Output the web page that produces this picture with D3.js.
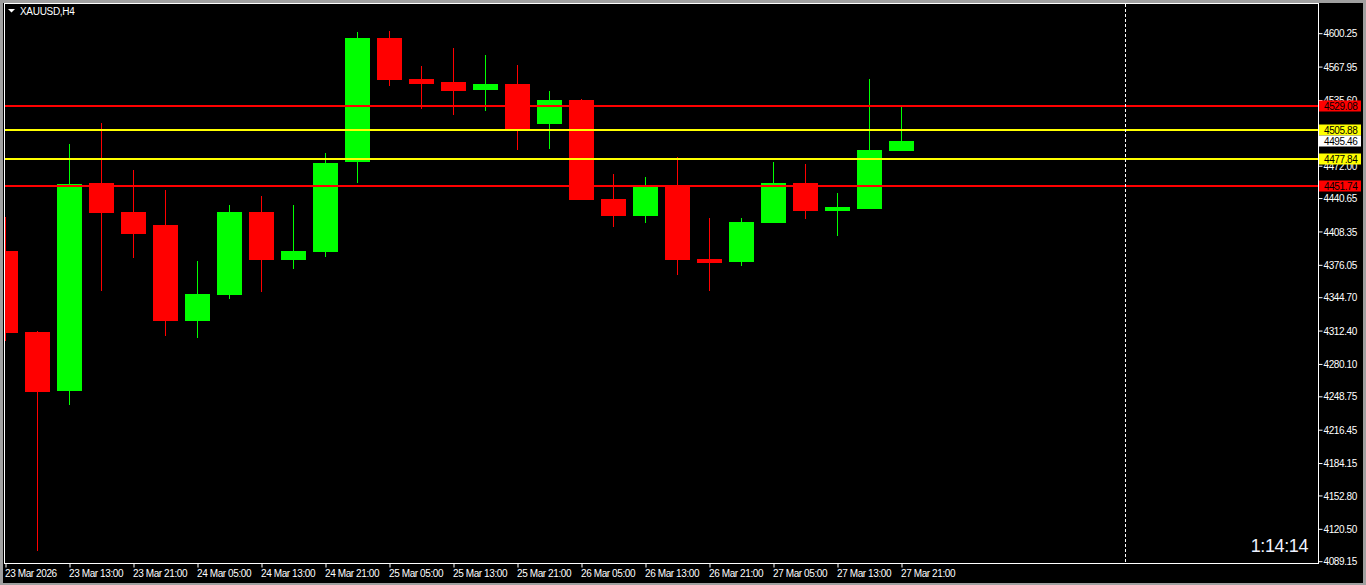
<!DOCTYPE html>
<html><head><meta charset="utf-8">
<script src="https://cdn.jsdelivr.net/npm/d3@7"></script>
<style>
html,body{margin:0;padding:0;background:#000;overflow:hidden}
svg{display:block}
text{font-family:"Liberation Sans",Arial,sans-serif}
</style></head><body>
<svg id="c" width="1366" height="585"></svg>
<script>
// ---------- data ----------
const symbolTitle = "XAUUSD,H4";
const times = [
  "23 Mar 05:00","23 Mar 09:00","23 Mar 13:00","23 Mar 17:00","23 Mar 21:00",
  "24 Mar 01:00","24 Mar 05:00","24 Mar 09:00","24 Mar 13:00","24 Mar 17:00","24 Mar 21:00",
  "25 Mar 01:00","25 Mar 05:00","25 Mar 09:00","25 Mar 13:00","25 Mar 17:00","25 Mar 21:00",
  "26 Mar 01:00","26 Mar 05:00","26 Mar 09:00","26 Mar 13:00","26 Mar 17:00","26 Mar 21:00",
  "27 Mar 01:00","27 Mar 05:00","27 Mar 09:00","27 Mar 13:00","27 Mar 17:00","27 Mar 21:00"
];
const openP  = [4389.2,4310.8,4253.7,4455.1,4427.0,4414.4,4321.5,4346.6,4427.0,4380.5,4388.3,
                4475.4,4595.4,4555.7,4552.8,4545.1,4550.9,4512.2,4535.4,4439.6,4423.1,4453.1,
                4381.5,4378.6,4416.3,4455.1,4428.0,4429.9,4486.0];
const highP  = [4422.1,4311.3,4492.8,4513.1,4467.6,4448.3,4379.6,4433.8,4442.5,4433.8,4484.1,
                4601.2,4602.2,4568.3,4585.7,4579.0,4569.3,4544.1,4536.4,4463.8,4460.9,4480.2,
                4421.2,4421.2,4475.4,4473.4,4445.4,4555.7,4528.6];
const lowP   = [4302.1,4098.8,4240.2,4350.5,4382.5,4307.0,4305.0,4342.8,4349.5,4371.8,4383.4,
                4455.1,4549.0,4526.7,4520.9,4524.8,4487.0,4488.0,4438.0,4412.5,4416.3,4366.0,
                4350.5,4374.7,4415.8,4420.2,4403.8,4429.4,4485.6];
const closeP = [4309.9,4252.7,4454.1,4426.0,4405.7,4321.5,4347.6,4427.0,4380.5,4389.2,4474.4,
                4595.4,4554.8,4550.9,4544.1,4550.9,4505.4,4535.4,4438.6,4423.1,4453.1,4380.5,
                4377.6,4417.3,4455.1,4428.0,4431.8,4487.0,4495.46];
const xTickIndex  = [0,2,4,6,8,10,12,14,16,18,20,22,24,26,28];
const xTickLabels = ["23 Mar 2026","23 Mar 13:00","23 Mar 21:00","24 Mar 05:00","24 Mar 13:00",
  "24 Mar 21:00","25 Mar 05:00","25 Mar 13:00","25 Mar 21:00","26 Mar 05:00","26 Mar 13:00",
  "26 Mar 21:00","27 Mar 05:00","27 Mar 13:00","27 Mar 21:00"];
const priceTicks = [4600.25,4567.95,4535.60,4472.00,4440.65,4408.35,4376.05,4344.70,
  4312.40,4280.10,4248.75,4216.45,4184.15,4152.80,4120.50,4089.15];
const levelPrices = [4529.08,4505.88,4477.84,4451.74];
const levelKinds  = ["red","yellow","yellow","red"];
const bidPrice = 4495.46;
const vLineIndex = 35;
const timerText = "1:14:14";

// ---------- styles ----------
const COL = {red:"#ff0000", yellow:"#ffff00", up:"#00ff00", down:"#ff0000"};

// ---------- layout ----------
const W = 1366, H = 585;
const plot = {left:4, top:3, right:1318, bottom:563};

const svg = d3.select("#c");
svg.append("rect").attr("width",W).attr("height",H).attr("fill","#000");

const x = d3.scaleLinear().domain([0,1]).range([5,37]);
const y = d3.scaleLinear().domain([4089.15,4600.25]).range([560.7,32.7]);

svg.append("clipPath").attr("id","plotclip").append("rect")
  .attr("x",plot.left+1).attr("y",plot.top+1)
  .attr("width",plot.right-plot.left-1).attr("height",plot.bottom-plot.top-1);

const g = svg.append("g").attr("clip-path","url(#plotclip)");

const data = times.map((t,i)=>({t,i,o:openP[i],h:highP[i],l:lowP[i],c:closeP[i]}));

// wicks
g.selectAll("rect.wick").data(data).join("rect").attr("class","wick")
  .attr("x",d=>Math.round(x(d.i)))
  .attr("width",1)
  .attr("y",d=>Math.round(y(d.h)))
  .attr("height",d=>Math.max(1,Math.round(y(d.l))-Math.round(y(d.h))))
  .attr("fill",d=>d.c>=d.o?COL.up:COL.down);
// bodies
g.selectAll("rect.body").data(data).join("rect").attr("class","body")
  .attr("x",d=>Math.round(x(d.i))-12)
  .attr("width",25)
  .attr("y",d=>Math.round(y(Math.max(d.o,d.c))))
  .attr("height",d=>Math.max(1,Math.round(y(Math.min(d.o,d.c)))-Math.round(y(Math.max(d.o,d.c)))))
  .attr("fill",d=>d.c>=d.o?COL.up:COL.down);

// horizontal levels
g.selectAll("rect.level").data(levelPrices).join("rect").attr("class","level")
  .attr("x",plot.left+1).attr("width",plot.right-plot.left-1)
  .attr("y",d=>Math.round(y(d))-1).attr("height",2)
  .attr("fill",(d,i)=>COL[levelKinds[i]]);

// vertical dashed line
g.append("line")
  .attr("x1",Math.round(x(vLineIndex))+0.5).attr("x2",Math.round(x(vLineIndex))+0.5)
  .attr("y1",plot.top+1).attr("y2",plot.bottom)
  .attr("stroke","#fff").attr("stroke-width",1).attr("stroke-dasharray","3,2");

// frame
svg.append("rect").attr("x",plot.left+0.5).attr("y",plot.top+0.5)
  .attr("width",plot.right-plot.left).attr("height",plot.bottom-plot.top)
  .attr("fill","none").attr("stroke","#fff").attr("stroke-width",1);

// right price axis
const yAxis = d3.axisRight(y).tickValues(priceTicks).tickFormat(d3.format(".2f")).tickSize(4).tickPadding(1);
const ya = svg.append("g").attr("transform",`translate(${plot.right+0.5},0.5)`).call(yAxis);
ya.select(".domain").remove();
ya.selectAll(".tick line").attr("stroke","#fff");
ya.selectAll(".tick text").attr("fill","#fff").attr("font-size","10px")
  .attr("font-family","Liberation Sans, Arial, sans-serif")
  .attr("letter-spacing","-0.4px").attr("x",5).attr("dy","0.36em");

// bottom time axis
const xAxis = d3.axisBottom(x).tickValues(xTickIndex).tickFormat((d,i)=>xTickLabels[i]).tickSize(4).tickPadding(2);
const xa = svg.append("g").attr("transform",`translate(0.5,${plot.bottom+0.5})`).call(xAxis);
xa.select(".domain").remove();
xa.selectAll(".tick line").attr("stroke","#fff");
xa.selectAll(".tick text").attr("fill","#fff").attr("font-size","10px")
  .attr("font-family","Liberation Sans, Arial, sans-serif")
  .attr("letter-spacing","-0.4px").attr("text-anchor","start").attr("x",-1).attr("y",6).attr("dy","0.71em");

// price label boxes
const boxes = levelPrices.map((p,i)=>({p,bg:COL[levelKinds[i]]})).concat([{p:bidPrice,bg:"#ffffff"}]);
const bg = svg.append("g");
bg.selectAll("rect").data(boxes).join("rect")
  .attr("x",plot.right+1).attr("width",42)
  .attr("y",d=>Math.round(y(d.p))-5.5).attr("height",11)
  .attr("fill",d=>d.bg);
bg.selectAll("text").data(boxes).join("text")
  .attr("x",plot.right+6).attr("y",d=>Math.round(y(d.p)))
  .attr("dy","0.36em").attr("font-size","10px").attr("letter-spacing","-0.4px")
  .attr("fill","#000").text(d=>d3.format(".2f")(d.p));

// title
svg.append("path").attr("d","M8,9 L15,9 L11.5,12.5 Z").attr("fill","#fff");
svg.append("text").attr("x",20).attr("y",15).attr("font-size","10px").attr("letter-spacing","-0.3px")
  .attr("fill","#fff").text(symbolTitle);

// timer
svg.append("text").attr("x",plot.right-10).attr("y",552).attr("text-anchor","end")
  .attr("font-size","18px").attr("letter-spacing","-0.4px").attr("fill","#eef2ff").text(timerText);

// window border
const border = svg.append("g").attr("fill","#a0a0a0");
border.append("rect").attr("x",0).attr("y",0).attr("width",3).attr("height",H);
border.append("rect").attr("x",0).attr("y",0).attr("width",W).attr("height",3);
border.append("rect").attr("x",W-3).attr("y",0).attr("width",3).attr("height",H);
border.append("rect").attr("x",0).attr("y",H-2).attr("width",W).attr("height",2);
</script>
</body></html>
